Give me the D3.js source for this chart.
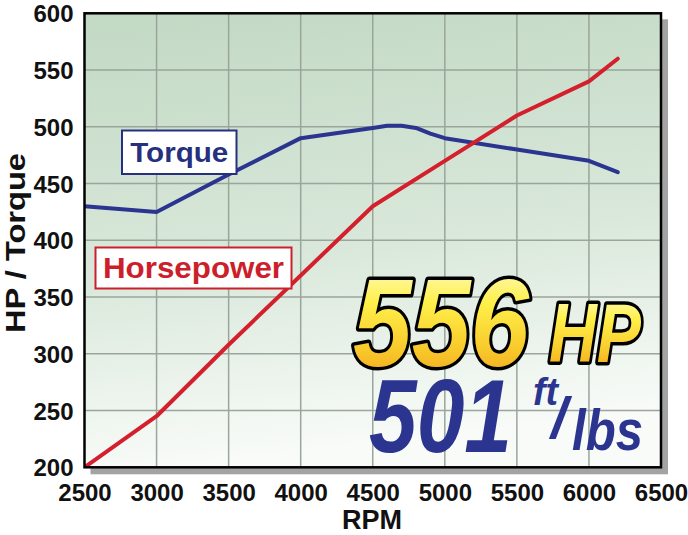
<!DOCTYPE html>
<html><head><meta charset="utf-8">
<script src="https://cdn.jsdelivr.net/npm/d3@7"></script>
<style>html,body{margin:0;padding:0;background:#fff;}svg{display:block;}</style>
</head><body>
<svg id="chart" width="688" height="535"></svg>
<script>
// ---- data ----
const torqueRpm = [2500, 3000, 3500, 4000, 4500, 4600, 4700, 4800, 4900, 5000, 5500, 6000, 6200];
const torqueVal = [430, 425, 458, 490, 499, 501, 501, 499, 494, 490, 480, 470, 460];
const hpRpm = [2500, 3000, 3500, 4000, 4500, 5000, 5500, 6000, 6200];
const hpVal = [200, 245, 308, 369, 430, 470, 510, 540, 560];
const xTicks = [2500, 3000, 3500, 4000, 4500, 5000, 5500, 6000, 6500];
const yTicks = [200, 250, 300, 350, 400, 450, 500, 550, 600];
const seriesNames = ["Torque", "Horsepower"];
const peakHp = "556", peakTq = "501";

(function () {
const svg = d3.select("#chart");
const pL = 84.5, pR = 661, pT = 13.3, pB = 467.3;
const x = d3.scaleLinear().domain([2500, 6500]).range([pL, pR]);
const y = d3.scaleLinear().domain([200, 600]).range([pB, pT]);
const font = "'Liberation Sans', Arial, sans-serif";

const defs = svg.append("defs");
const bg = defs.append("linearGradient").attr("id", "bg").attr("x1", 0).attr("y1", 0).attr("x2", 0.15).attr("y2", 1);
bg.append("stop").attr("offset", "0%").attr("stop-color", "#c2d9c4");
bg.append("stop").attr("offset", "55%").attr("stop-color", "#d8e7d9");
bg.append("stop").attr("offset", "100%").attr("stop-color", "#f8fbf8");
const gold = defs.append("linearGradient").attr("id", "gold").attr("x1", 0).attr("y1", 0).attr("x2", 0).attr("y2", 1);
gold.append("stop").attr("offset", "0%").attr("stop-color", "#fffde0");
gold.append("stop").attr("offset", "35%").attr("stop-color", "#fff04a");
gold.append("stop").attr("offset", "70%").attr("stop-color", "#f8c82a");
gold.append("stop").attr("offset", "100%").attr("stop-color", "#ee9a1c");
defs.append("clipPath").attr("id", "clip").append("rect")
  .attr("x", pL).attr("y", pT).attr("width", pR - pL).attr("height", pB - pT);

// shadow
svg.append("rect").attr("x", pL + 6).attr("y", pT + 6).attr("width", pR - pL + 1).attr("height", pB - pT + 1)
  .attr("fill", "#a3a3a3");
// plot bg
svg.append("rect").attr("x", pL).attr("y", pT).attr("width", pR - pL).attr("height", pB - pT)
  .attr("fill", "url(#bg)");

// grid
const grid = svg.append("g");
grid.selectAll("line.v").data(xTicks.slice(1, -1)).join("line").attr("class", "v")
  .attr("x1", d => x(d)).attr("x2", d => x(d)).attr("y1", pT).attr("y2", pB)
  .attr("stroke", "#9aa59b").attr("stroke-width", 1.5);
grid.selectAll("line.h").data(yTicks.slice(1, -1)).join("line").attr("class", "h")
  .attr("y1", d => y(d)).attr("y2", d => y(d)).attr("x1", pL).attr("x2", pR)
  .attr("stroke", "#9aa59b").attr("stroke-width", 1.5);

// axes tick labels
const yAxis = d3.axisLeft(y).tickValues(yTicks).tickSize(0).tickPadding(11);
const gy = svg.append("g").attr("transform", `translate(${pL},0)`).call(yAxis);
gy.select(".domain").remove();
gy.selectAll("text").attr("font-family", font).attr("font-weight", "bold").attr("font-size", 24)
  .attr("fill", "#111").attr("dy", "0.36em");
const xAxis = d3.axisBottom(x).tickValues(xTicks).tickSize(0).tickPadding(17).tickFormat(d3.format("d"));
const gx = svg.append("g").attr("transform", `translate(0,${pB})`).call(xAxis);
gx.select(".domain").remove();
gx.selectAll("text").attr("font-family", font).attr("font-weight", "bold").attr("font-size", 24)
  .attr("fill", "#111").attr("dy", "0.71em");

svg.append("text").attr("x", 372).attr("y", 529).attr("text-anchor", "middle")
  .attr("font-family", font).attr("font-weight", "bold").attr("font-size", 27).attr("fill", "#111").text("RPM");
svg.append("text").attr("transform", "translate(25,243) rotate(-90)").attr("text-anchor", "middle")
  .attr("font-family", font).attr("font-weight", "bold").attr("font-size", 27).attr("fill", "#111")
  .attr("textLength", 180).attr("lengthAdjust", "spacingAndGlyphs").text("HP / Torque");

// lines
const lines = svg.append("g").attr("clip-path", "url(#clip)");
const lineGen = d3.line().x(d => x(d[0])).y(d => y(d[1]));
lines.append("path").datum(torqueRpm.map((r, i) => [r, torqueVal[i]])).attr("d", lineGen)
  .attr("fill", "none").attr("stroke", "#2b3590").attr("stroke-width", 4).attr("stroke-linejoin", "round").attr("stroke-linecap", "round");
lines.append("path").datum(hpRpm.map((r, i) => [r, hpVal[i]])).attr("d", lineGen)
  .attr("fill", "none").attr("stroke", "#d4202c").attr("stroke-width", 4).attr("stroke-linejoin", "round").attr("stroke-linecap", "round");

// border
svg.append("rect").attr("x", pL).attr("y", pT).attr("width", pR - pL).attr("height", pB - pT)
  .attr("fill", "none").attr("stroke", "#000").attr("stroke-width", 2.5);

// legend boxes
function labelBox(x0, y0, w, h, color, txt, fs, tl) {
  svg.append("rect").attr("x", x0).attr("y", y0).attr("width", w).attr("height", h)
    .attr("fill", "#fff").attr("stroke", color).attr("stroke-width", 2);
  svg.append("text").attr("x", x0 + w / 2).attr("y", y0 + h / 2).attr("dy", "0.36em").attr("text-anchor", "middle")
    .attr("font-family", font).attr("font-weight", "bold").attr("font-size", fs).attr("fill", color)
    .attr("textLength", tl).attr("lengthAdjust", "spacingAndGlyphs").text(txt);
}
labelBox(122, 130.5, 114.5, 43.5, "#26307f", seriesNames[0], 27, 98);
labelBox(95.5, 247.5, 196, 41, "#cc1f2b", seriesNames[1], 29, 181);

// big texts
const big = svg.append("g").attr("font-family", font).attr("font-weight", "bold").attr("font-style", "italic");
big.append("text").attr("x", 353).attr("y", 366).attr("font-size", 124)
  .attr("textLength", 176).attr("lengthAdjust", "spacingAndGlyphs")
  .attr("fill", "url(#gold)").attr("stroke", "#000").attr("stroke-width", 7).attr("paint-order", "stroke")
  .attr("stroke-linejoin", "round").text(peakHp);
big.append("text").attr("x", 549).attr("y", 362).attr("font-size", 84)
  .attr("textLength", 92).attr("lengthAdjust", "spacingAndGlyphs")
  .attr("fill", "url(#gold)").attr("stroke", "#000").attr("stroke-width", 7).attr("paint-order", "stroke")
  .attr("stroke-linejoin", "round").text("HP");
big.append("text").attr("x", 369).attr("y", 452).attr("font-size", 104)
  .attr("textLength", 143).attr("lengthAdjust", "spacingAndGlyphs").attr("fill", "#2b3590").text(peakTq);
big.append("text").attr("x", 533).attr("y", 405).attr("font-size", 38)
  .attr("textLength", 25).attr("lengthAdjust", "spacingAndGlyphs").attr("fill", "#2b3590").text("ft");
big.append("text").attr("x", 551).attr("y", 438).attr("font-size", 58)
  .attr("fill", "#2b3590").text("/");
big.append("text").attr("x", 572).attr("y", 450).attr("font-size", 57)
  .attr("textLength", 71).attr("lengthAdjust", "spacingAndGlyphs").attr("fill", "#2b3590").text("lbs");
})();
</script>
</body></html>
